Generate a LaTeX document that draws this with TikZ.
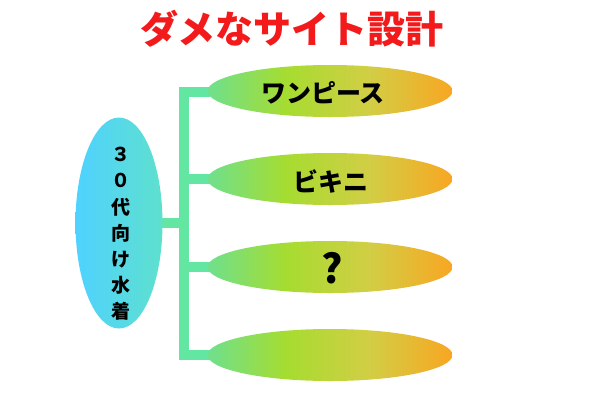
\documentclass[tikz,border=0pt]{standalone}
\usepackage{fontspec}
\usetikzlibrary{shapes.geometric}
\newfontfamily\jp{Noto Sans CJK JP}
\definecolor{gA}{HTML}{6EE08E}
\definecolor{gB}{HTML}{A6DC30}
\definecolor{gC}{HTML}{D2CE45}
\definecolor{gD}{HTML}{F9A622}
\definecolor{bA}{HTML}{4FD2FF}
\definecolor{bB}{HTML}{5EE0CE}
\definecolor{conncol}{HTML}{64E6A3}
\definecolor{titlered}{HTML}{F21A1A}
\pgfdeclarehorizontalshading{greenorange}{100bp}{color(0bp)=(gA); color(25bp)=(gA); color(41bp)=(gB); color(58bp)=(gC); color(75bp)=(gD); color(100bp)=(gD)}
\pgfdeclarelayer{paper}
\pgfdeclarelayer{links}
\pgfsetlayers{paper,links,main}
\tikzset{
  conn/.style={line width=10pt, draw=conncol, line join=miter},
  branch/.style={ellipse, minimum width=245pt, minimum height=52pt, inner sep=0pt, shading=greenorange},
  mainbox/.style={ellipse, minimum width=87pt, minimum height=211pt, inner sep=0pt, left color=bA, right color=bB},
  lbl/.style={font=\jp\bfseries\fontsize{25}{25}\selectfont, text=black, inner sep=0pt}
}
\begin{document}
\begin{tikzpicture}[x=1pt,y=-1pt]
\begin{pgfonlayer}{paper}
\fill[white] (0,0) rectangle (600,400);
\end{pgfonlayer}
\useasboundingbox (0,0) rectangle (600,400);
\node[font=\jp\bfseries\fontsize{38}{38}\selectfont, text=titlered, inner sep=0pt] (title) at (292,29) {ダメなサイト設計};
\node[mainbox] (main) at (119,223) {};
\node[branch] (r1) at (330,91) {};
\node[branch] (r2) at (330,179) {};
\node[branch] (r3) at (330,267) {};
\node[branch] (r4) at (330,355) {};
\coordinate (top) at (184,92);
\coordinate (bot) at (184,355);
\begin{pgfonlayer}{links}
\draw[conn] ([xshift=3pt]r1.west |- top) -- (top) -- (bot) -- ([xshift=3pt]r4.west);
\draw[conn] ([xshift=3pt]r2.west) -- (r2.west -| top);
\draw[conn] ([xshift=3pt]r3.west) -- (r3.west -| top);
\draw[conn] ([xshift=-3pt]main.east) -- (main.east -| top);
\end{pgfonlayer}
\node[lbl] (t1) at (323,93) {ワンピース};
\node[lbl] (t2) at (331,181) {ビキニ};
\node[lbl, font=\jp\bfseries\fontsize{40}{40}\selectfont] (t3) at (332,268) {?};
\node[font=\jp\bfseries\fontsize{19}{26.2}\selectfont, align=center, inner sep=0pt] (mt) at (121,234) {３\\０\\代\\向\\け\\水\\着};
\end{tikzpicture}
\end{document}
